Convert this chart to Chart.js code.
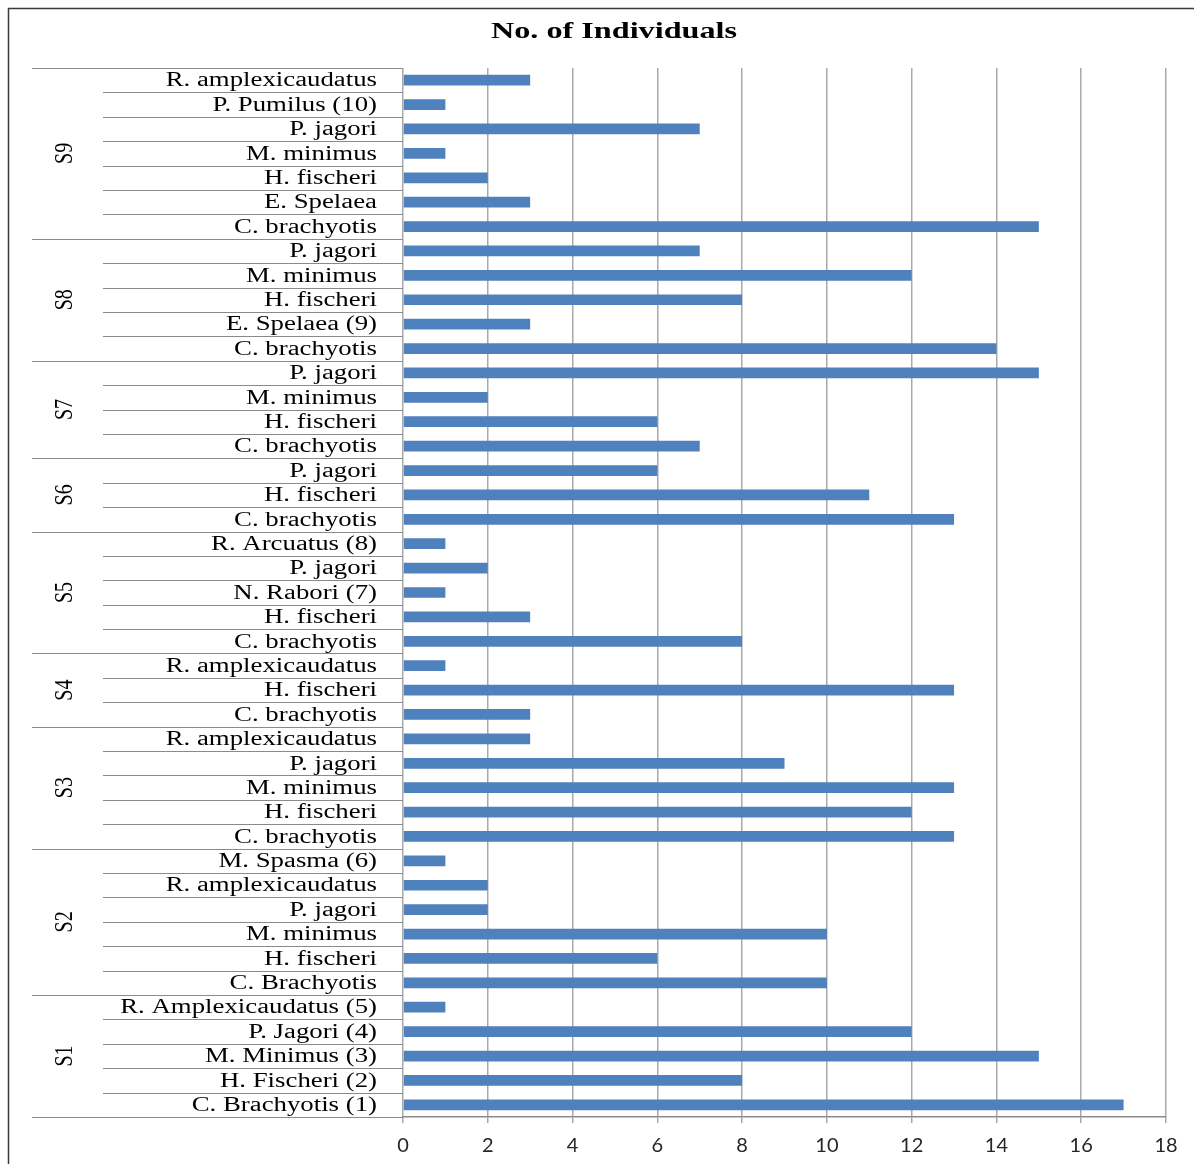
<!DOCTYPE html>
<html>
<head>
<meta charset="utf-8">
<script src="https://cdn.jsdelivr.net/npm/chart.js@4/dist/chart.umd.min.js"></script>
<style>
html,body{margin:0;padding:0;background:#fff;}
canvas{display:block;}
</style>
</head>
<body>
<canvas id="c" width="1194" height="1164"></canvas>
<script>
// Categories listed top to bottom
const categories = [
  'R. amplexicaudatus','P. Pumilus (10)','P. jagori','M. minimus','H. fischeri','E. Spelaea','C. brachyotis',
  'P. jagori','M. minimus','H. fischeri','E. Spelaea (9)','C. brachyotis',
  'P. jagori','M. minimus','H. fischeri','C. brachyotis',
  'P. jagori','H. fischeri','C. brachyotis',
  'R. Arcuatus (8)','P. jagori','N. Rabori (7)','H. fischeri','C. brachyotis',
  'R. amplexicaudatus','H. fischeri','C. brachyotis',
  'R. amplexicaudatus','P. jagori','M. minimus','H. fischeri','C. brachyotis',
  'M. Spasma (6)','R. amplexicaudatus','P. jagori','M. minimus','H. fischeri','C. Brachyotis',
  'R. Amplexicaudatus (5)','P. Jagori (4)','M. Minimus (3)','H. Fischeri (2)','C. Brachyotis (1)'
];
const values = [
  3,1,7,1,2,3,15,
  7,12,8,3,14,
  15,2,6,7,
  6,11,13,
  1,2,1,3,8,
  1,13,3,
  3,9,13,12,13,
  1,2,2,10,6,10,
  1,12,15,8,17
];
const groupLabels = ['S9','S8','S7','S6','S5','S4','S3','S2','S1'];
const groupSizes = [7,5,4,3,5,3,5,6,5];
const xTicks = [0,2,4,6,8,10,12,14,16,18];
const chartTitle = 'No. of Individuals';

const decor = {
  id: 'decor',
  afterDraw(chart) {
    const ctx = chart.ctx;
    const ys = chart.scales.y;
    const area = chart.chartArea;
    ctx.save();
    // outer frame
    ctx.strokeStyle = '#3a3a3a';
    ctx.lineWidth = 1.5;
    ctx.beginPath();
    ctx.moveTo(8.5, 1164); ctx.lineTo(8.5, 8.5); ctx.lineTo(1194, 8.5);
    ctx.stroke();

    // title
    ctx.fillStyle = '#000';
    ctx.font = 'bold 23px "Liberation Serif", "Times New Roman", serif';
    ctx.textAlign = 'center';
    ctx.textBaseline = 'alphabetic';
    ctx.save();
    ctx.translate(614, 38);
    ctx.scale(1.4, 1);
    ctx.fillText(chartTitle, 0, 0);
    ctx.restore();

    const n = categories.length;
    const rowH = ys.getPixelForValue(1) - ys.getPixelForValue(0);

    // category labels
    ctx.font = '20px "Liberation Serif", "Times New Roman", serif';
    ctx.textAlign = 'right';
    ctx.textBaseline = 'middle';
    for (let i = 0; i < n; i++) {
      const yc = ys.getPixelForValue(i);
      ctx.save();
      ctx.translate(377, yc + 1);
      ctx.scale(1.34, 1);
      ctx.fillText(categories[i], 0, 0);
      ctx.restore();
    }

    // separators
    const groupEnds = new Set();
    let acc = 0;
    groupSizes.forEach(s => { acc += s; groupEnds.add(acc); });
    ctx.strokeStyle = '#8a8a8a';
    ctx.lineWidth = 1;
    ctx.beginPath();
    ctx.moveTo(32, Math.round(area.top) + 0.5); ctx.lineTo(403, Math.round(area.top) + 0.5);
    for (let i = 1; i <= n; i++) {
      const y = Math.round(ys.getPixelForValue(i - 1) + rowH / 2) + 0.5;
      const x0 = groupEnds.has(i) ? 32 : 103;
      ctx.moveTo(x0, y); ctx.lineTo(403, y);
    }
    ctx.stroke();

    // group labels
    ctx.fillStyle = '#000';
    ctx.textAlign = 'center';
    ctx.textBaseline = 'middle';
    let start = 0;
    groupLabels.forEach((g, k) => {
      const end = start + groupSizes[k] - 1;
      const yc = (ys.getPixelForValue(start) + ys.getPixelForValue(end)) / 2;
      ctx.save();
      ctx.translate(65, yc);
      ctx.rotate(-Math.PI / 2);
      ctx.scale(1, 1.3);
      ctx.fillText(g, 0, 0);
      ctx.restore();
      start += groupSizes[k];
    });
    ctx.restore();
  }
};

new Chart(document.getElementById('c'), {
  type: 'bar',
  data: {
    labels: categories,
    datasets: [{
      data: values,
      backgroundColor: '#4F81BD',
      borderWidth: 0,
      barPercentage: 0.44,
      categoryPercentage: 1
    }]
  },
  options: {
    indexAxis: 'y',
    responsive: false,
    animation: false,
    events: [],
    layout: { padding: { left: 403, right: 28, top: 68, bottom: 0 } },
    plugins: { legend: { display: false }, title: { display: false }, tooltip: { enabled: false } },
    scales: {
      x: {
        min: 0, max: 18,
        afterFit(scale) { scale.height = 47; },
        afterBuildTicks(scale) { scale.ticks = xTicks.map(v => ({ value: v })); },
        grid: { color: '#a9a9a9', lineWidth: 1.5, tickLength: 6, drawTicks: true },
        border: { display: true, color: '#8a8a8a', width: 1.5 },
        ticks: {
          padding: 11,
          color: '#262626',
          font: { family: 'Lato, "Liberation Sans", sans-serif', size: 20 },
          maxRotation: 0
        }
      },
      y: { display: false }
    }
  },
  plugins: [decor]
});
</script>
</body>
</html>
